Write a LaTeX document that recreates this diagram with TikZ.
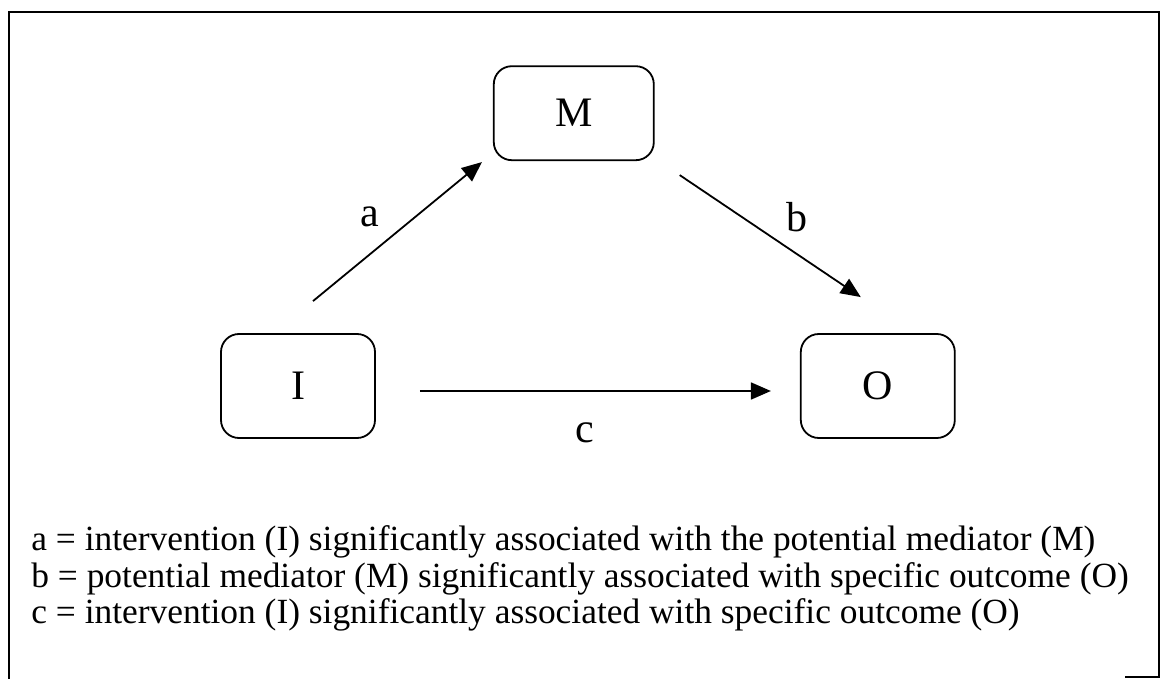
\documentclass[tikz,border=0pt]{standalone}
\usepackage{fontspec}
\setmainfont{Liberation Serif}
\usetikzlibrary{arrows.meta,positioning}

\begin{document}
\begin{tikzpicture}[
  x=0.5pt,y=-0.5pt,
  box/.style={draw,line width=0.9pt,rounded corners=9pt,minimum width=77pt,minimum height=52pt,inner sep=0pt,font=\fontsize{21}{25}\selectfont},
  lbl/.style={font=\fontsize{21}{25}\selectfont},
  key/.style={anchor=base west,inner sep=0pt,font=\fontsize{17.7}{21}\selectfont},
  arrow/.style={-{Triangle[length=10pt,width=8.5pt]},line width=0.9pt}
]
\useasboundingbox (0,0) rectangle (1162,679);
% frame
\draw[line width=1pt] (9,679) -- (9,12) -- (1159,12) -- (1159,677) -- (1125,677);
% boxes
\node[box] (I) at (298,386) {I};
\node[box,minimum width=80pt,minimum height=47pt,above right=86pt and 58.5pt of I] (M) {M};
\node[box,right=212pt of I] (O) {O};
% paths
\draw[arrow] ([shift={(15,-32)}]I.north) -- ([shift={(-11,1)}]M.south west);
\draw[arrow] ([shift={(25,14)}]M.south east) -- ([shift={(-17,-36)}]O.north);
\draw[arrow] ([shift={(44,5)}]I.east) -- ([shift={(-29,5)}]O.west);
\node[lbl] (la) at (370,217) {a};
\node[lbl] (lb) at (797,217) {b};
\node[lbl] (lc) at (585,433) {c};
% legend
\node[key] (ka) at (31,550) {a = intervention (I) significantly associated with the potential mediator (M)};
\node[key] (kb) at (31,587) {b = potential mediator (M) significantly associated with specific outcome (O)};
\node[key] (kc) at (31,623) {c = intervention (I) significantly associated with specific outcome (O)};
\end{tikzpicture}
\end{document}
